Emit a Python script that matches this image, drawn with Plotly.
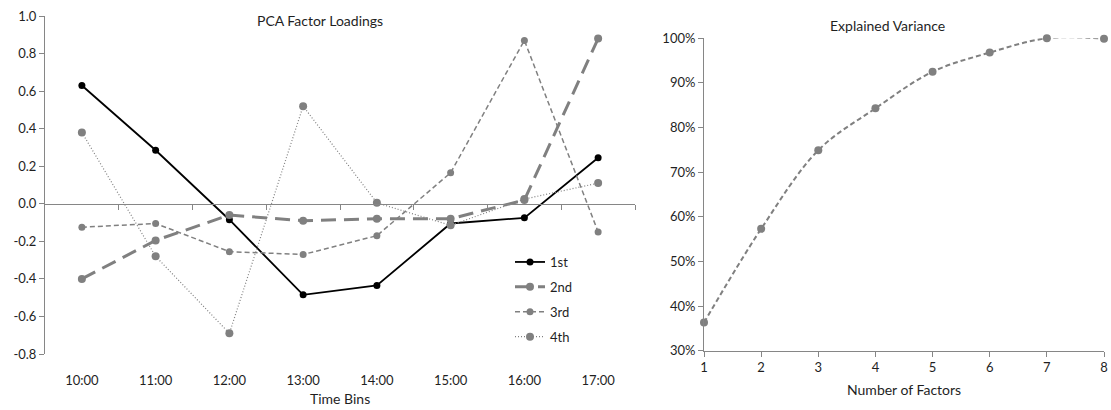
import plotly.graph_objects as go

# ---- data ----
time_bins = ["10:00", "11:00", "12:00", "13:00", "14:00", "15:00", "16:00", "17:00"]
f1st = [0.63, 0.285, -0.085, -0.485, -0.435, -0.105, -0.075, 0.245]
f2nd = [-0.40, -0.195, -0.06, -0.09, -0.08, -0.08, 0.02, 0.88]
f3rd = [-0.125, -0.105, -0.255, -0.27, -0.17, 0.165, 0.87, -0.15]
f4th = [0.38, -0.28, -0.69, 0.52, 0.005, -0.115, 0.025, 0.11]

n_factors = [1, 2, 3, 4, 5, 6, 7, 8]
explained = [0.363, 0.573, 0.749, 0.843, 0.925, 0.968, 1.0, 0.999]

load_ticks = [1.0, 0.8, 0.6, 0.4, 0.2, 0.0, -0.2, -0.4, -0.6, -0.8]
load_ticktext = ["1.0", "0.8", "0.6", "0.4", "0.2", "0.0", "-0.2", "-0.4", "-0.6", "-0.8"]
boundary_ticks = [0.5, 1.5, 2.5, 3.5, 4.5, 5.5, 6.5, 7.5]

W, H = 1111, 410
FONT = "Lato"
TXT = "#1f1f1f"
AX = "#868686"
GRAY = "#808080"

def px_x(p):
    return p / W

def px_y(p):
    return 1 - p / H

fig = go.Figure()

fig.add_trace(go.Scatter(x=time_bins, y=f1st, name="1st", mode="lines+markers",
                         line=dict(color="black", width=1.8),
                         marker=dict(color="black", size=7), legendgroup="a"))
fig.add_trace(go.Scatter(x=time_bins, y=f2nd, name="2nd", mode="lines+markers",
                         line=dict(color=GRAY, width=3, dash="15px,8px"),
                         marker=dict(color=GRAY, size=8), legendgroup="b"))
fig.add_trace(go.Scatter(x=time_bins, y=f3rd, name="3rd", mode="lines+markers",
                         line=dict(color=GRAY, width=1.5, dash="5px,3px"),
                         marker=dict(color=GRAY, size=7), legendgroup="c"))
fig.add_trace(go.Scatter(x=time_bins, y=f4th, name="4th", mode="lines+markers",
                         line=dict(color=GRAY, width=1.2, dash="1px,2px"),
                         marker=dict(color=GRAY, size=8), legendgroup="d"))

# invisible helper trace so the zero-line category-boundary axis is drawn
fig.add_trace(go.Scatter(x=[-0.5, 7.5], y=[0, 0], mode="lines", line=dict(width=0),
                         opacity=0, xaxis="x2", yaxis="y", showlegend=False,
                         hoverinfo="skip"))

fig.add_trace(go.Scatter(x=n_factors, y=explained, mode="lines+markers",
                         line=dict(color=GRAY, width=2, dash="5px,3px", shape="spline"),
                         marker=dict(color=GRAY, size=8), cliponaxis=False,
                         xaxis="x3", yaxis="y3", showlegend=False))

left_dom = [px_x(45), px_x(635)]
left_ydom = [px_y(354), px_y(16)]
zero_pos = left_ydom[0] + (left_ydom[1] - left_ydom[0]) * 0.8 / 1.8

right_dom = [px_x(704), px_x(1104)]
right_ydom = [px_y(350.7), px_y(38.3)]

tickfont = dict(family=FONT, size=13, color=TXT)

fig.update_layout(
    template="none",
    width=W, height=H,
    margin=dict(l=0, r=0, t=0, b=0, pad=0, autoexpand=False),
    paper_bgcolor="white", plot_bgcolor="rgba(0,0,0,0)",
    font=dict(family=FONT, color=TXT),
    xaxis=dict(domain=left_dom, anchor="y", type="category", range=[-0.5, 7.5],
               showline=False, showgrid=False, zeroline=False, automargin=False,
               ticks="outside", ticklen=14, tickcolor="rgba(0,0,0,0)",
               tickfont=tickfont, fixedrange=True),
    xaxis2=dict(overlaying="x", anchor="free", position=zero_pos, side="bottom",
                range=[-0.5, 7.5], tickvals=boundary_ticks, showticklabels=False,
                showline=True, linecolor=AX, linewidth=1, automargin=False,
                ticks="outside", ticklen=5, tickcolor=AX,
                showgrid=False, zeroline=False),
    yaxis=dict(domain=left_ydom, anchor="x", range=[-0.8, 1.0],
               tickvals=load_ticks, ticktext=load_ticktext,
               showline=True, linecolor=AX, linewidth=1, automargin=False,
               ticks="outside", ticklen=5, tickcolor=AX,
               showgrid=False, zeroline=False, tickfont=tickfont),
    xaxis3=dict(domain=right_dom, anchor="y3", range=[1, 8], tickvals=n_factors,
                showline=True, linecolor=AX, linewidth=1, automargin=False,
                ticks="outside", ticklen=5, tickcolor=AX,
                showgrid=False, zeroline=False, tickfont=tickfont),
    yaxis3=dict(domain=right_ydom, anchor="x3", range=[0.3, 1.0], dtick=0.1,
                tickformat=".0%",
                showline=True, linecolor=AX, linewidth=1, automargin=False,
                ticks="outside", ticklen=5, tickcolor=AX,
                showgrid=False, zeroline=False, tickfont=tickfont),
    legend=dict(x=px_x(510), y=px_y(247), xanchor="left", yanchor="top",
                traceorder="grouped", tracegroupgap=5,
                font=dict(family=FONT, size=13, color=TXT),
                bgcolor="rgba(0,0,0,0)"),
    showlegend=True,
)

ann_font = dict(family=FONT, size=14, color=TXT)
fig.add_annotation(text="PCA Factor Loadings", x=px_x(320), y=px_y(20), xref="paper", yref="paper",
                   showarrow=False, font=ann_font, xanchor="center", yanchor="middle")
fig.add_annotation(text="Time Bins", x=px_x(340), y=px_y(398), xref="paper", yref="paper",
                   showarrow=False, font=ann_font, xanchor="center", yanchor="middle")
fig.add_annotation(text="Explained Variance", x=px_x(887), y=px_y(25), xref="paper", yref="paper",
                   showarrow=False, font=ann_font, xanchor="center", yanchor="middle")
fig.add_annotation(text="Number of Factors", x=px_x(904), y=px_y(389), xref="paper", yref="paper",
                   showarrow=False, font=ann_font, xanchor="center", yanchor="middle")

fig.write_html("out.html", config={"displayModeBar": False},
               post_script="document.body.style.margin='0px';document.body.style.overflow='hidden';")
